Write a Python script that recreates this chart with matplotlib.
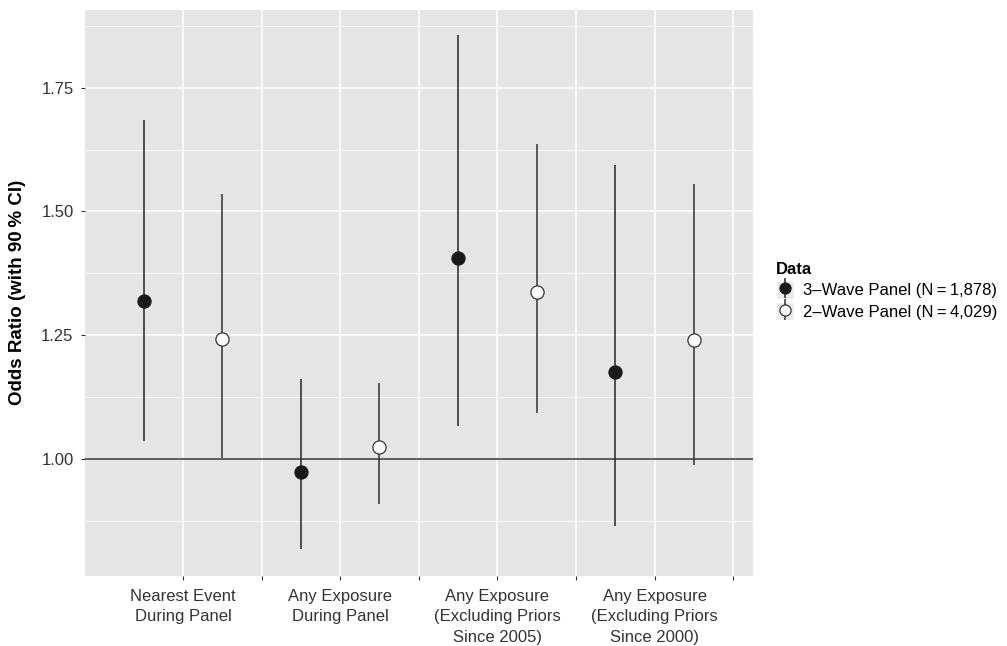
import numpy as np
import matplotlib
matplotlib.use("Agg")
import matplotlib.pyplot as plt
from matplotlib.legend_handler import HandlerErrorbar
from matplotlib.patches import Rectangle
from matplotlib.lines import Line2D

plt.rcParams['font.family'] = ['Liberation Sans', 'DejaVu Sans']

# datos
categorias = ["Nearest Event\nDuring Panel",
              "Any Exposure\nDuring Panel",
              "Any Exposure\n(Excluding Priors\nSince 2005)",
              "Any Exposure\n(Excluding Priors\nSince 2000)"]

ola3_or = [1.319, 0.973, 1.406, 1.176]
ola3_lo = [1.035, 0.817, 1.067, 0.865]
ola3_hi = [1.684, 1.162, 1.857, 1.594]

ola2_or = [1.242, 1.023, 1.337, 1.241]
ola2_lo = [1.002, 0.908, 1.093, 0.988]
ola2_hi = [1.535, 1.154, 1.637, 1.556]

etiquetas = ["3\u2013Wave Panel (N\u2009=\u20091,878)",
             "2\u2013Wave Panel (N\u2009=\u20094,029)"]

y_ticks = [1.00, 1.25, 1.50, 1.75]


class ClaveGris(HandlerErrorbar):
    # clave de leyenda con fondo gris, como en ggplot
    def create_artists(self, legend, orig_handle, xdescent, ydescent,
                       width, height, fontsize, trans):
        arts = super().create_artists(legend, orig_handle, xdescent, ydescent,
                                      width, height, fontsize, trans)
        for a in arts:
            if isinstance(a, Line2D) and a.get_marker() not in (None, 'None', ''):
                a.set_markersize(8)
        fondo = Rectangle((-xdescent, -ydescent), width, height,
                          facecolor='#ececec', edgecolor='white', lw=0.8,
                          transform=trans)
        return [fondo] + list(arts)


fig = plt.figure(figsize=(10.07, 6.46), dpi=100)
ax = fig.add_axes([0.0844, 0.1084, 0.6634, 0.8766])
ax.set_facecolor('#e5e5e5')
for s in ax.spines.values():
    s.set_visible(False)

x = np.arange(1, len(categorias) + 1)
d = 0.25

ax.axhline(1.0, color='#333333', lw=1.1, zorder=2)

oy = np.array(ola3_or)
e3 = ax.errorbar(x - d, oy, yerr=[oy - np.array(ola3_lo), np.array(ola3_hi) - oy],
                 fmt='o', ms=9.5, mfc='#1a1a1a', mec='#1a1a1a', mew=0.8,
                 ecolor='#262626', elinewidth=1.1, capsize=0, zorder=3,
                 label=etiquetas[0])
oy = np.array(ola2_or)
e2 = ax.errorbar(x + d, oy, yerr=[oy - np.array(ola2_lo), np.array(ola2_hi) - oy],
                 fmt='o', ms=9.5, mfc='white', mec='#333333', mew=0.9,
                 ecolor='#333333', elinewidth=1.1, capsize=0, zorder=3,
                 label=etiquetas[1])

ax.set_xlim(0.376, 4.627)
ax.set_ylim(0.763, 1.908)

xt = np.arange(1, 4.51, 0.5)
ax.set_xticks(xt)
ax.set_xticklabels([categorias[int(v) - 1] if v == int(v) else '' for v in xt])
for t in ax.get_xticklabels():
    t.set_linespacing(1.45)
ax.set_yticks(y_ticks)
ax.set_yticklabels(['%.2f' % v for v in y_ticks])
ax.set_yticks(np.arange(0.875, 1.9, 0.25), minor=True)

ax.grid(True, which='major', color='white', lw=1.1)
ax.grid(True, which='minor', axis='y', color='white', lw=0.55)
ax.set_axisbelow(True)

ax.tick_params(axis='both', which='major', length=3.2, width=0.8, color='#333333',
               labelcolor='#333333', labelsize=12)
ax.tick_params(axis='x', pad=6)
ax.tick_params(axis='y', pad=5)
ax.tick_params(which='minor', length=0)

ax.set_ylabel('Odds Ratio (with 90\u2009% CI)', fontsize=13.5, fontweight='bold',
              color='black')
ax.yaxis.set_label_coords(-0.088, 0.5)

leg = fig.legend(handles=[e3, e2], loc='center left', bbox_to_anchor=(0.762, 0.549),
                 frameon=False, title='Data', fontsize=12, numpoints=1,
                 handlelength=1.1, handleheight=1.3, handletextpad=0.55,
                 labelspacing=0.2, borderpad=0, alignment='left',
                 title_fontproperties={'weight': 'bold', 'size': 12},
                 handler_map={type(e3): ClaveGris(yerr_size=0.62)})

fig.savefig('out.png', dpi=100)
